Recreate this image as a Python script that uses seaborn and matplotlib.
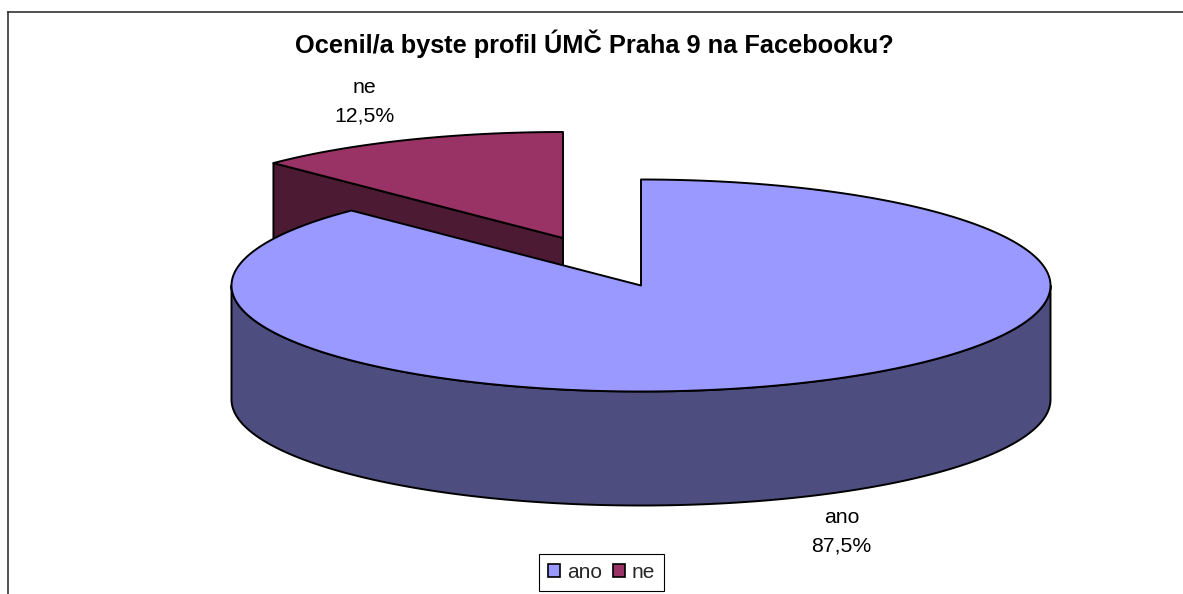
import numpy as np
import matplotlib
matplotlib.use("Agg")
import matplotlib.pyplot as plt
from matplotlib.patches import Patch, Polygon
import seaborn as sns

# data
labels = ["ano", "ne"]
shares = [87.5, 12.5]
title = "Ocenil/a byste profil ÚMČ Praha 9 na Facebooku?"

sns.set_theme(style="white")
plt.rcParams["font.family"] = ["Liberation Sans", "DejaVu Sans"]

top_colors = sns.color_palette(["#9999FF", "#993366"])
side_colors = sns.color_palette(["#4D4D80", "#4D1A33"])

# pie shape, in pixels
CX, CY = 641, 285.5
RX, RY = 409.5, 106
DEPTH = 114
EXPLODE = (-78, -47.5)
LW = 1.4

W, H = 1183, 594
LEFT, TOP = 7.5, 11.5


def arc(cx, cy, a0, a1, n=200):
    # angles clockwise from 12 o'clock
    t = np.radians(np.linspace(a0, a1, n))
    return np.column_stack([cx + RX * np.sin(t), cy - RY * np.cos(t)])


def add(ax, pts, color):
    ax.add_patch(Polygon(pts, closed=True, facecolor=color, edgecolor="black",
                         linewidth=LW, joinstyle="round"))


fig = plt.figure(figsize=(W / 100, H / 100), dpi=100, facecolor="white")
ax = fig.add_axes([LEFT / W, 0, 1 - LEFT / W, (H - TOP) / H])
ax.set_xlim(LEFT, W)
ax.set_ylim(H, TOP)
ax.set_xticks([])
ax.set_yticks([])
sns.despine(ax=ax, top=False, left=False, right=True, bottom=True)
ax.spines["top"].set_color("#333333")
ax.spines["left"].set_color("#333333")
ax.spines["top"].set_linewidth(1.2)
ax.spines["left"].set_linewidth(1.2)

main_end = 360 * shares[0] / sum(shares)

# small exploded slice goes first, the big one covers it
nx, ny = CX + EXPLODE[0], CY + EXPLODE[1]
ne_arc = arc(nx, ny, main_end, 360)
a = ne_arc[0]
add(ax, [(nx, ny), tuple(a), (a[0], a[1] + DEPTH), (nx, ny + DEPTH)], side_colors[1])
add(ax, np.vstack([[(nx, ny)], ne_arc]), top_colors[1])

# big slice: side wall, then top
wall = arc(CX, CY, 90, 270)
add(ax, np.vstack([wall, (wall + [0, DEPTH])[::-1]]), side_colors[0])
add(ax, np.vstack([[(CX, CY)], arc(CX, CY, 0, main_end, 400)]), top_colors[0])

ax.text(594, 44, title, fontsize=18.3, fontweight="bold", color="black",
        ha="center", va="center")

label_pos = [(841.5, 517, 546), (364, 87, 116)]
for name, val, (x, y1, y2) in zip(labels, shares, label_pos):
    ax.text(x, y1, name, fontsize=15.3, color="black", ha="center", va="center")
    ax.text(x, y2, f"{val:.1f}%".replace(".", ","), fontsize=15.3, color="black",
            ha="center", va="center")

handles = [Patch(facecolor=c, edgecolor="black", linewidth=1.2, label=n)
           for c, n in zip(top_colors, labels)]
leg = ax.legend(handles=handles, ncol=2, loc="center",
                bbox_to_anchor=(601.5, 572.5), bbox_transform=ax.transData,
                fontsize=15, handlelength=0.6, handleheight=0.6,
                handletextpad=0.32, columnspacing=0.5, borderpad=0.42,
                fancybox=False, framealpha=1, edgecolor="black")
leg.get_frame().set_linewidth(0.8)

fig.savefig("out.png", dpi=100)
